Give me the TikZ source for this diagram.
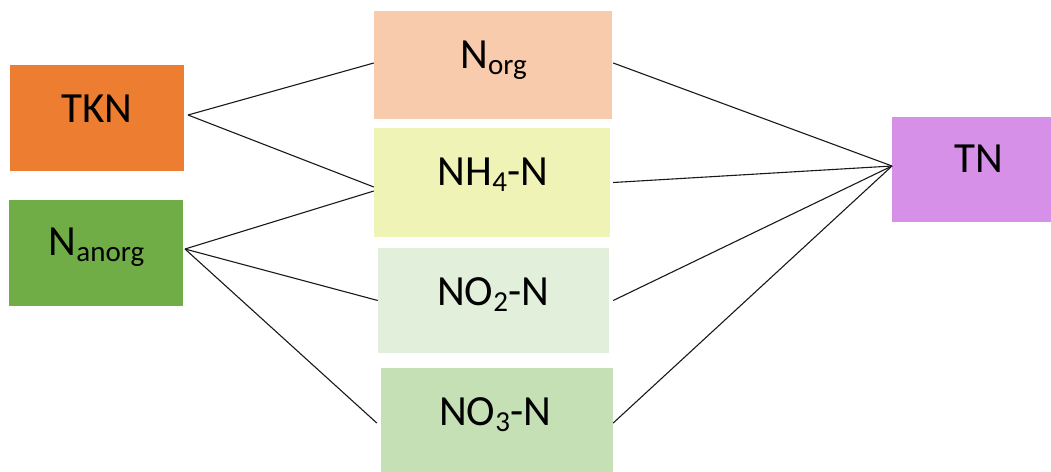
\documentclass[tikz,border=0pt]{standalone}
\usepackage{fontspec}
\setmainfont{Carlito}
\definecolor{cTKN}{HTML}{ED7D31}
\definecolor{cAnorg}{HTML}{70AD47}
\definecolor{cOrg}{HTML}{F8CBAD}
\definecolor{cNH}{HTML}{EFF4B6}
\definecolor{cNOtwo}{HTML}{E2EFDA}
\definecolor{cNOthree}{HTML}{C5E0B4}
\definecolor{cTN}{HTML}{D690E8}
\newcommand\mysub[1]{\raisebox{-6.5pt}{\fontsize{29}{29}\selectfont #1}}
\tikzset{
  box/.style={rectangle, draw=none, inner sep=0pt},
  lbl/.style={anchor=base, inner sep=0pt, font=\fontsize{43}{43}\selectfont},
  conn/.style={draw=black!90, line width=1.1pt}
}
\begin{document}
\begin{tikzpicture}[x=1pt,y=-1pt]
\useasboundingbox (0,0) rectangle (1051,471);
\begin{scope}
\clip (0,0) rectangle (1051,471);
\node[box, fill=cTKN, minimum width=174pt, minimum height=106pt] (tkn) at (97,118) {};
\node[box, fill=cAnorg, minimum width=174pt, minimum height=106pt] (anorg) at (96,253) {};
\node[box, fill=cOrg, minimum width=238pt, minimum height=108pt] (org) at (493,65) {};
\node[box, fill=cNH, minimum width=236pt, minimum height=109pt] (nh) at (492,182.5) {};
\node[box, fill=cNOtwo, minimum width=231pt, minimum height=105pt] (notwo) at (493.5,300.5) {};
\node[box, fill=cNOthree, minimum width=232pt, minimum height=110pt] (nothree) at (497,423) {};
\node[box, fill=cTN, minimum width=174pt, minimum height=105pt] (tn) at (979,169.5) {};
\end{scope}

\node[lbl] (tknT) at (97,122) {TKN};
\node[lbl] (anorgT) at (96.5,255) {N\mysub{anorg}};
\node[lbl] (orgT) at (493.5,68) {N\mysub{org}};
\node[lbl] (nhT) at (493,185) {NH\mysub{4}-N};
\node[lbl] (notwoT) at (493,305) {NO\mysub{2}-N};
\node[lbl] (nothreeT) at (495,425) {NO\mysub{3}-N};
\node[lbl] (tnT) at (979,172) {TN};

\coordinate (tknA) at (188,115);
\coordinate (anorgA) at (185,249);
\coordinate (tnA) at (892,166);

\draw[conn] (tknA) -- ([yshift=2pt]org.west);
\draw[conn] (tknA) -- ([yshift=-4.5pt]nh.west);
\draw[conn] (anorgA) -- ([yshift=-8.5pt]nh.west);
\draw[conn] (anorgA) -- (notwo.west);
\draw[conn] (anorgA) -- ([xshift=-4pt]nothree.west);
\draw[conn] ([xshift=1pt,yshift=2pt]org.east) -- (tnA);
\draw[conn] ([xshift=3pt]nh.east) -- (tnA);
\draw[conn] ([xshift=4pt]notwo.east) -- (tnA);
\draw[conn] (nothree.east) -- (tnA);
\end{tikzpicture}
\end{document}
